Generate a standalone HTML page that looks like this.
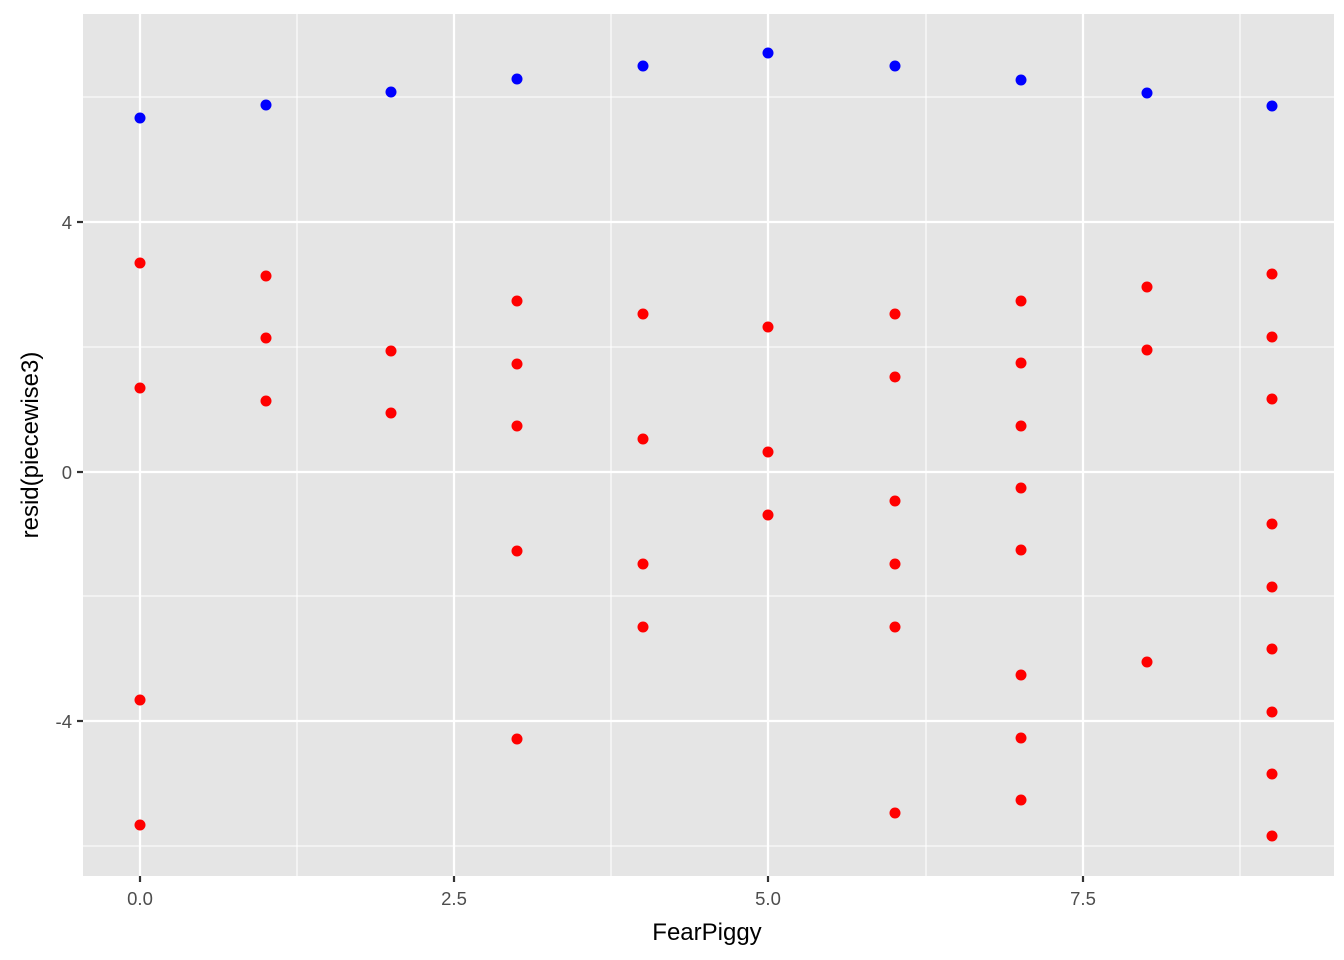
<!DOCTYPE html>
<html><head><style>body{margin:0;background:#fff}svg{display:block}</style></head><body>
<svg width="1344" height="960" xmlns="http://www.w3.org/2000/svg" font-family="Liberation Sans, sans-serif">
<rect x="83" y="14" width="1251" height="862" fill="#e5e5e5"/>
<g stroke="#fff" stroke-width="1.1">
<line x1="297" y1="14" x2="297" y2="876"/><line x1="611" y1="14" x2="611" y2="876"/><line x1="926" y1="14" x2="926" y2="876"/><line x1="1240" y1="14" x2="1240" y2="876"/>
<line x1="83" y1="97" x2="1334" y2="97"/><line x1="83" y1="347" x2="1334" y2="347"/><line x1="83" y1="596" x2="1334" y2="596"/><line x1="83" y1="846" x2="1334" y2="846"/>
</g>
<g stroke="#fff" stroke-width="2.2">
<line x1="140" y1="14" x2="140" y2="876"/><line x1="454" y1="14" x2="454" y2="876"/><line x1="768" y1="14" x2="768" y2="876"/><line x1="1083" y1="14" x2="1083" y2="876"/>
<line x1="83" y1="222" x2="1334" y2="222"/><line x1="83" y1="472" x2="1334" y2="472"/><line x1="83" y1="721" x2="1334" y2="721"/>
</g>
<g fill="#0000ff">
<circle cx="140" cy="118" r="5.5"/><circle cx="266" cy="105" r="5.5"/><circle cx="391" cy="92" r="5.5"/><circle cx="517" cy="79" r="5.5"/><circle cx="643" cy="66" r="5.5"/><circle cx="768" cy="53" r="5.5"/><circle cx="895" cy="66" r="5.5"/><circle cx="1021" cy="80" r="5.5"/><circle cx="1147" cy="93" r="5.5"/><circle cx="1272" cy="106" r="5.5"/>
</g>
<g fill="#ff0000">
<circle cx="140" cy="263" r="5.5"/><circle cx="140" cy="388" r="5.5"/><circle cx="140" cy="700" r="5.5"/><circle cx="140" cy="825" r="5.5"/>
<circle cx="266" cy="276" r="5.5"/><circle cx="266" cy="338" r="5.5"/><circle cx="266" cy="401" r="5.5"/>
<circle cx="391" cy="351" r="5.5"/><circle cx="391" cy="413" r="5.5"/>
<circle cx="517" cy="301" r="5.5"/><circle cx="517" cy="364" r="5.5"/><circle cx="517" cy="426" r="5.5"/><circle cx="517" cy="551" r="5.5"/><circle cx="517" cy="739" r="5.5"/>
<circle cx="643" cy="314" r="5.5"/><circle cx="643" cy="439" r="5.5"/><circle cx="643" cy="564" r="5.5"/><circle cx="643" cy="627" r="5.5"/>
<circle cx="768" cy="327" r="5.5"/><circle cx="768" cy="452" r="5.5"/><circle cx="768" cy="515" r="5.5"/>
<circle cx="895" cy="314" r="5.5"/><circle cx="895" cy="377" r="5.5"/><circle cx="895" cy="501" r="5.5"/><circle cx="895" cy="564" r="5.5"/><circle cx="895" cy="627" r="5.5"/><circle cx="895" cy="813" r="5.5"/>
<circle cx="1021" cy="301" r="5.5"/><circle cx="1021" cy="363" r="5.5"/><circle cx="1021" cy="426" r="5.5"/><circle cx="1021" cy="488" r="5.5"/><circle cx="1021" cy="550" r="5.5"/><circle cx="1021" cy="675" r="5.5"/><circle cx="1021" cy="738" r="5.5"/><circle cx="1021" cy="800" r="5.5"/>
<circle cx="1147" cy="287" r="5.5"/><circle cx="1147" cy="350" r="5.5"/><circle cx="1147" cy="662" r="5.5"/>
<circle cx="1272" cy="274" r="5.5"/><circle cx="1272" cy="337" r="5.5"/><circle cx="1272" cy="399" r="5.5"/><circle cx="1272" cy="524" r="5.5"/><circle cx="1272" cy="587" r="5.5"/><circle cx="1272" cy="649" r="5.5"/><circle cx="1272" cy="712" r="5.5"/><circle cx="1272" cy="774" r="5.5"/><circle cx="1272" cy="836" r="5.5"/>
</g>
<g stroke="#333" stroke-width="2.2">
<line x1="140" y1="876" x2="140" y2="882"/><line x1="454" y1="876" x2="454" y2="882"/><line x1="768" y1="876" x2="768" y2="882"/><line x1="1083" y1="876" x2="1083" y2="882"/>
<line x1="77" y1="222" x2="83" y2="222"/><line x1="77" y1="472" x2="83" y2="472"/><line x1="77" y1="721" x2="83" y2="721"/>
</g>
<g fill="#4d4d4d" font-size="18.5" text-anchor="middle">
<text x="140" y="905">0.0</text><text x="454" y="905">2.5</text><text x="768" y="905">5.0</text><text x="1083" y="905">7.5</text>
</g>
<g fill="#4d4d4d" font-size="18.5" text-anchor="end">
<text x="72" y="229">4</text><text x="72" y="479">0</text><text x="72" y="728">-4</text>
</g>
<text x="707" y="940" font-size="24" text-anchor="middle" fill="#000">FearPiggy</text>
<text transform="translate(38,445) rotate(-90)" font-size="24" text-anchor="middle" fill="#000">resid(piecewise3)</text>
</svg>
</body></html>
